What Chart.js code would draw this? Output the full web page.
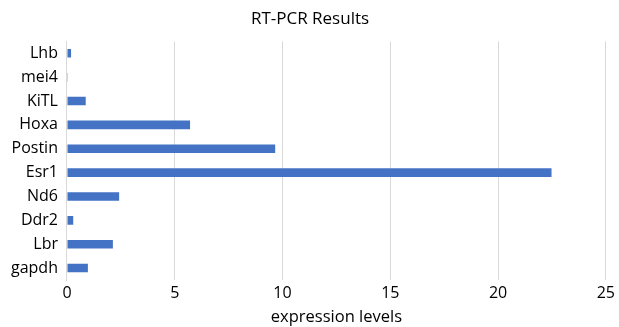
<!DOCTYPE html>
<html><head><meta charset="utf-8">
<script src="https://cdn.jsdelivr.net/npm/chart.js@4/dist/chart.umd.min.js"></script>
<style>html,body{margin:0;padding:0;background:#fff}#wrap{width:619px;height:327px}</style>
</head><body><div id="wrap"><canvas id="c" width="619" height="327"></canvas></div>
<script>
const categories = ["Lhb","mei4","KiTL","Hoxa","Postin","Esr1","Nd6","Ddr2","Lbr","gapdh"];
const expressionValues = [0.19, 0.01, 0.87, 5.71, 9.66, 22.48, 2.42, 0.29, 2.13, 0.97];
const xTicks = [0,5,10,15,20,25];
const FONT = "'Open Sans', 'Liberation Sans', sans-serif";
new Chart(document.getElementById('c'), {
  type: 'bar',
  data: { labels: categories, datasets: [{ data: expressionValues, backgroundColor: '#4472c4', barPercentage: 0.36, categoryPercentage: 1.0 }] },
  options: {
    indexAxis: 'y', responsive: false, animation: false,
    layout: { padding: { left: 2, right: 1, top: 0, bottom: 0 } },
    plugins: {
      legend: { display: false }, tooltip: { enabled: false },
      title: { display: true, text: 'RT-PCR Results', color: '#000', font: { family: FONT, size: 17, weight: 'normal' }, padding: { top: 9, bottom: 12 } }
    },
    scales: {
      x: { min: 0, max: 25, afterBuildTicks: ax => { ax.ticks = xTicks.map(v => ({ value: v })); },
           grid: { color: '#d9d9d9', drawTicks: false }, border: { display: false },
           ticks: { color: '#000', font: { family: FONT, size: 16 }, padding: 4 },
           title: { display: true, text: 'expression levels', color: '#000', font: { family: FONT, size: 16.5 }, padding: { top: 0, bottom: 0 } } },
      y: { grid: { display: false, drawTicks: false }, border: { display: true, color: '#d9d9d9' },
           ticks: { color: '#000', font: { family: FONT, size: 16 }, padding: 9 } }
    }
  }
});
</script></body></html>
